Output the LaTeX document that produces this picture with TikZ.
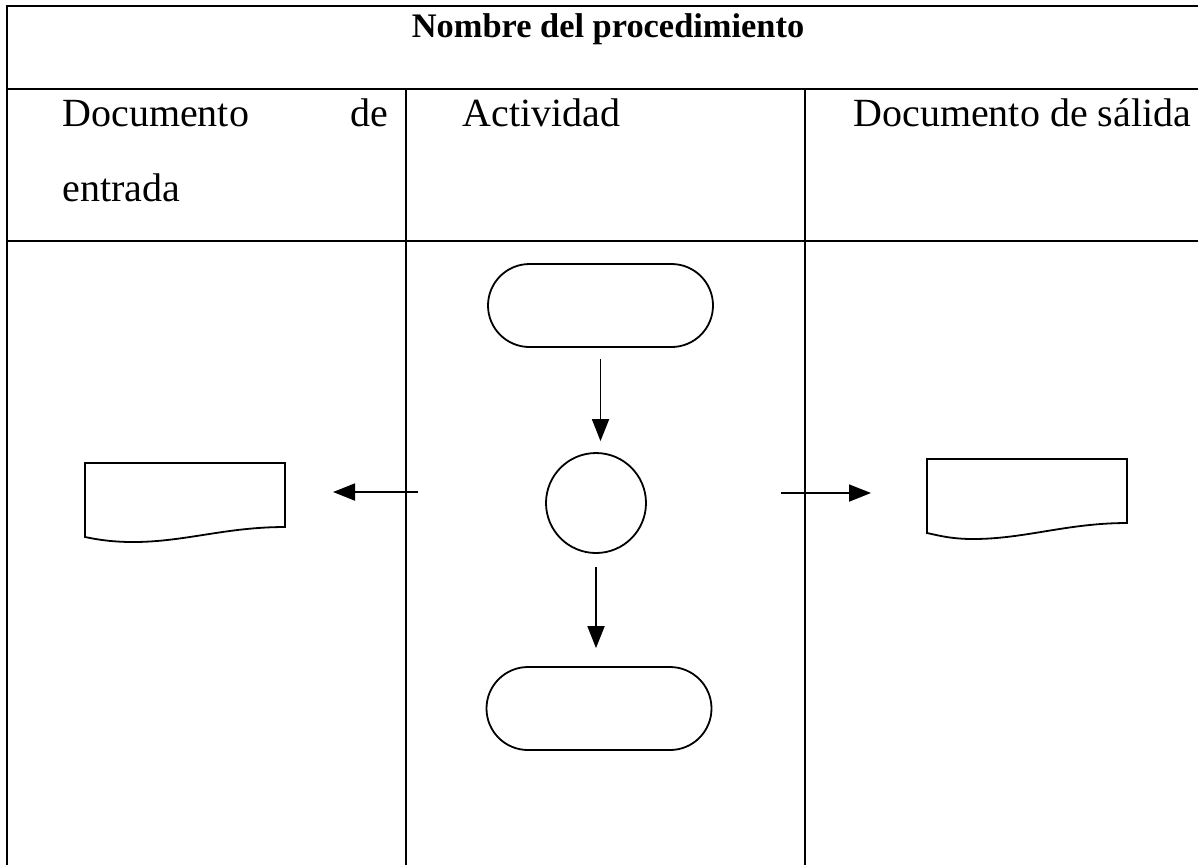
\documentclass[tikz,border=0pt]{standalone}
\usepackage{fontspec}
\setmainfont{Liberation Serif}
\usetikzlibrary{arrows.meta,shapes.misc}
\begin{document}
\begin{tikzpicture}[x=0.5pt,y=-0.5pt,
  grid/.style={line width=1.15pt},
  shapeline/.style={draw,line width=0.9pt},
  terminal/.style={shapeline,rounded rectangle,minimum width=112.5pt,minimum height=41.5pt,inner sep=0pt},
  connector/.style={shapeline,circle,minimum size=50pt,inner sep=0pt},
  flow/.style={line width=0.9pt,-{Triangle[length=11pt,width=8.5pt]}},
  label/.style={font=\fontsize{20pt}{24pt}\selectfont,inner sep=0pt,anchor=base west},
  title/.style={font=\fontsize{17.2pt}{20pt}\selectfont\bfseries,inner sep=0pt,anchor=base}]
\useasboundingbox (0,0) rectangle (1198,864);
\clip (0,0) rectangle (1198,864);
\fill[white] (0,0) rectangle (1198,864);

% table frame and rules
\draw[grid] (7,900) -- (7,6) -- (1220,6);
\draw[grid] (7,89) -- (1220,89);
\draw[grid] (7,241) -- (1220,241);
\draw[grid] (406,89) -- (406,900);
\draw[grid] (805,89) -- (805,900);

% headings
\node[title] (ttl) at (608,37) {Nombre del procedimiento};
\node[label] (hin1) at (62,126) {Documento};
\node[label,anchor=base east] (hin2) at (389,126) {de};
\node[label] (hin3) at (62,201) {entrada};
\node[label] (hact) at (462,126) {Actividad};
\node[label] (hout) at (853,126) {Documento de sálida};

% activity flow
\node[terminal] (start) at (600.5,305.5) {};
\node[connector] (proc) at (596,503) {};
\node[terminal] (finish) at (599,708.5) {};
\draw[flow,shorten <=5.5pt,shorten >=5.5pt] (start) -- (start |- proc.north);
\draw[flow,shorten <=6.5pt,shorten >=9pt] (proc) -- (proc |- finish.north);

% input document
\draw[shapeline] (85,463) -- (285,463) -- (285,527)
  .. controls (225,527) and (185,542) .. (133,542)
  .. controls (110,542) and (95,539) .. (85,537) -- cycle;
\node[inner sep=0pt,minimum width=100pt,minimum height=32pt] (docin) at (185,495) {};
% output document
\draw[shapeline] (927,459) -- (1127,459) -- (1127,523)
  .. controls (1067,523) and (1025,539) .. (973,539)
  .. controls (950,539) and (937,535) .. (927,533) -- cycle;
\node[inner sep=0pt,minimum width=100pt,minimum height=32pt] (docout) at (1027,491) {};

% document arrows
\coordinate (inA) at (418,492);
\coordinate (inB) at (333,492);
\coordinate (outA) at (781,493);
\coordinate (outB) at (871,493);
\draw[flow] (inA) -- (inB);
\draw[flow] (outA) -- (outB);
\end{tikzpicture}
\end{document}
